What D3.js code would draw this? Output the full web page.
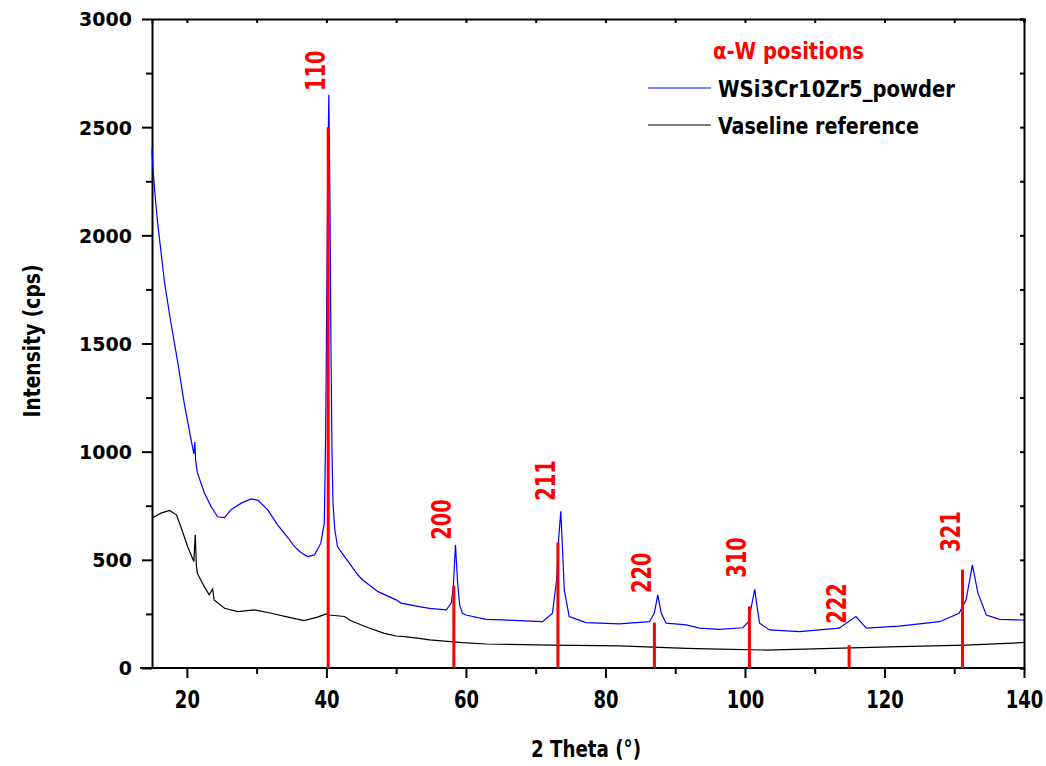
<!DOCTYPE html>
<html>
<head>
<meta charset="utf-8">
<script src="https://cdn.jsdelivr.net/npm/d3@7/dist/d3.min.js"></script>
<style>
  body { margin: 0; background: #fff; }
</style>
</head>
<body>
<div class="vis-holder"></div>
<script>
// measured powder pattern (blue)
var sampleTheta = [15.0, 15.1, 15.4, 15.8, 16.8, 17.7, 18.7, 19.6, 20.6, 21.0, 21.15, 21.25, 21.5, 22.5, 23.5, 24.4, 25.4,
  26.3, 27.8, 29.2, 30.2, 31.6, 33.0, 34.5, 35.4, 36.3, 37.3, 38.3, 39.2, 39.7, 39.9, 40.05, 40.2, 40.35, 40.5, 40.65,
  40.8, 40.95, 41.2, 41.6, 42.6, 44.5, 45.2, 47.4, 50.0, 50.7, 53.3, 54.8, 57.2, 57.9, 58.2, 58.5, 58.8, 59.1, 59.5,
  60.0, 62.9, 65.3, 71.0, 72.4, 73.0, 73.3, 73.6, 73.85, 74.1, 74.8, 77.2, 82.0, 86.3, 87.0, 87.5, 88.0, 88.7, 91.6,
  93.5, 96.3, 99.7, 100.5, 100.9, 101.4, 101.8, 102.1, 103.5, 107.8, 113.5, 115.9, 117.4, 122.1, 127.9, 130.7, 131.7,
  132.6, 133.4, 134.6, 136.5, 139.8, 140.0];
var sampleCps = [2400, 2330, 2200, 2060, 1782, 1597, 1412, 1227, 1056, 990, 1045, 960, 903, 810, 745, 699, 695,
  731, 762, 782, 775, 731, 662, 602, 562, 535, 515, 523, 577, 671, 1100, 1700, 2300, 2650, 2200, 1500,
  1000, 760, 640, 560, 515, 431, 407, 353, 315, 300, 284, 276, 269, 300, 380, 569, 400, 292, 253,
  245, 225, 222, 214, 253, 407, 600, 724, 550, 361, 238, 210, 204, 214, 253, 338, 253, 207, 199,
  184, 179, 186, 214, 280, 364, 270, 207, 176, 168, 184, 238, 184, 194, 214, 253, 315,
  477, 346, 245, 225, 222, 220];

// vaseline reference (black)
var refTheta = [15.0, 16.3, 17.5, 18.5, 19.2, 20.1, 21.0, 21.2, 21.35, 21.5, 22.5, 23.2, 23.7, 23.9, 25.4, 27.3, 29.7,
  32.1, 34.5, 36.8, 38.7, 40.0, 40.4, 42.6, 43.3, 45.0, 46.2, 48.3, 50.0, 51.2, 53.3, 54.8, 59.5, 62.9, 72.4, 82.0,
  91.6, 96.3, 103.0, 112.6, 122.1, 131.7, 139.8, 140.0];
var refCps = [693, 716, 728, 708, 647, 562, 492, 616, 480, 438, 376, 338, 366, 315, 276, 261, 269,
  253, 235, 219, 235, 250, 245, 238, 222, 199, 184, 160, 148, 145, 137, 130, 117, 111, 106, 102,
  91, 87, 83, 91, 99, 106, 117, 120];

// alpha-W reflections
var hkl = ["110", "200", "211", "220", "310", "222", "321"];
var hklTheta = [40.26, 58.27, 73.19, 87.02, 100.64, 114.93, 131.19];
var hklCps = [2500, 380, 580, 210, 285, 105, 455];
var hklLabelCps = [2667, 593, 773, 347, 417, 204, 537];

var xTicks = [20, 40, 60, 80, 100, 120, 140];
var yTicks = [0, 500, 1000, 1500, 2000, 2500, 3000];

var width = 1046;
var height = 766;
var margin = { top: 19, bottom: 98, left: 152, right: 22 };

var svg = d3.select(".vis-holder")
  .append("svg")
  .attr("width", width)
  .attr("height", height);

var xScale = d3.scaleLinear().domain([15, 140]).range([margin.left, width - margin.right]);
var yScale = d3.scaleLinear().domain([0, 3000]).range([height - margin.bottom, margin.top]);

var narrow = "'Liberation Sans Narrow', 'DejaVu Sans Condensed', 'Open Sans', sans-serif";

// box: top and right axes with small inward ticks
svg.append("g")
  .attr("transform", "translate(0," + margin.top + ")")
  .call(d3.axisBottom(xScale).tickValues(d3.range(20, 141, 10)).tickSize(4).tickFormat(""))
  .call(function(g) { g.selectAll("path, line").attr("stroke", "#000").attr("stroke-width", 2); });
svg.append("g")
  .attr("transform", "translate(" + (width - margin.right) + ",0)")
  .call(d3.axisLeft(yScale).tickValues(d3.range(0, 3001, 250)).tickSize(4).tickFormat(""))
  .call(function(g) { g.selectAll("path, line").attr("stroke", "#000").attr("stroke-width", 2); });

// minor ticks
svg.append("g")
  .attr("transform", "translate(0," + (height - margin.bottom) + ")")
  .call(d3.axisBottom(xScale).tickValues(d3.range(30, 140, 20)).tickSize(6).tickFormat(""))
  .call(function(g) { g.select(".domain").remove(); g.selectAll("line").attr("stroke", "#000").attr("stroke-width", 2); });
svg.append("g")
  .attr("transform", "translate(" + margin.left + ",0)")
  .call(d3.axisLeft(yScale).tickValues(d3.range(250, 3000, 500)).tickSize(6).tickFormat(""))
  .call(function(g) { g.select(".domain").remove(); g.selectAll("line").attr("stroke", "#000").attr("stroke-width", 2); });

// main x axis
var xAxis = svg.append("g")
  .attr("class", "x axis")
  .attr("transform", "translate(0," + (height - margin.bottom) + ")")
  .call(d3.axisBottom(xScale).tickValues(xTicks).tickSize(10).tickSizeOuter(0).tickPadding(12));
xAxis.select(".domain").attr("d", "M" + (margin.left - 12) + ",0H" + (width - margin.right));
xAxis.selectAll("path, line").attr("stroke", "#000").attr("stroke-width", 2);
xAxis.selectAll("text")
  .attr("fill", "#000")
  .attr("transform", "scale(0.8,1)")
  .attr("x", function() { return 0; })
  .style("font-family", narrow)
  .style("font-weight", "bold")
  .style("font-size", "25px");

// main y axis
var yAxis = svg.append("g")
  .attr("class", "y axis")
  .attr("transform", "translate(" + margin.left + ",0)")
  .call(d3.axisLeft(yScale).tickValues(yTicks).tickFormat(d3.format("d")).tickSize(10).tickSizeOuter(0).tickPadding(10));
yAxis.selectAll("path, line").attr("stroke", "#000").attr("stroke-width", 2);
yAxis.selectAll("text")
  .attr("fill", "#000")
  .attr("dy", "0.36em")
  .style("font-family", "'DejaVu Sans', Verdana, sans-serif")
  .style("font-weight", "bold")
  .style("font-size", "19px");

// curves
var line = d3.line()
  .x(function(d) { return xScale(d[0]); })
  .y(function(d) { return yScale(d[1]); });

svg.append("path")
  .attr("d", line(d3.zip(refTheta, refCps)))
  .attr("fill", "none")
  .attr("stroke", "#000")
  .attr("stroke-width", 1.2);

svg.append("path")
  .attr("d", line(d3.zip(sampleTheta, sampleCps)))
  .attr("fill", "none")
  .attr("stroke", "#0000ff")
  .attr("stroke-width", 1.2);

// reflection markers
svg.selectAll(".hkl-line")
  .data(hklTheta)
  .enter().append("line")
  .attr("class", "hkl-line")
  .attr("x1", function(d) { return xScale(d); })
  .attr("x2", function(d) { return xScale(d); })
  .attr("y1", yScale(0))
  .attr("y2", function(d, i) { return yScale(hklCps[i]); })
  .attr("stroke", "#ff0000")
  .attr("stroke-width", 3);

svg.selectAll(".hkl-label")
  .data(hkl)
  .enter().append("text")
  .attr("class", "hkl-label")
  .attr("transform", function(d, i) {
    return "translate(" + (xScale(hklTheta[i]) - 3) + "," + yScale(hklLabelCps[i]) + ") rotate(-90) scale(0.8,1)";
  })
  .attr("fill", "#ff0000")
  .style("font-family", narrow)
  .style("font-weight", "bold")
  .style("font-size", "27px")
  .text(function(d) { return d; });

// legend
svg.append("text")
  .attr("x", 713).attr("y", 59)
  .attr("fill", "#ff0000")
  .style("font-family", narrow)
  .style("font-weight", "bold")
  .style("font-size", "23px")
  .attr("textLength", 151)
  .attr("lengthAdjust", "spacingAndGlyphs")
  .text("\u03b1-W positions");

svg.append("line")
  .attr("x1", 648).attr("x2", 711).attr("y1", 88).attr("y2", 88)
  .attr("stroke", "#0000ff").attr("stroke-width", 1.2);
svg.append("text")
  .attr("x", 718).attr("y", 97)
  .style("font-family", narrow)
  .style("font-weight", "bold")
  .style("font-size", "23px")
  .attr("textLength", 237)
  .attr("lengthAdjust", "spacingAndGlyphs")
  .text("WSi3Cr10Zr5_powder");

svg.append("line")
  .attr("x1", 648).attr("x2", 711).attr("y1", 125).attr("y2", 125)
  .attr("stroke", "#000").attr("stroke-width", 1.2);
svg.append("text")
  .attr("x", 718).attr("y", 134)
  .style("font-family", narrow)
  .style("font-weight", "bold")
  .style("font-size", "23px")
  .attr("textLength", 201)
  .attr("lengthAdjust", "spacingAndGlyphs")
  .text("Vaseline reference");

// axis titles
svg.append("text")
  .attr("transform", "translate(" + 40 + "," + 341 + ") rotate(-90)")
  .style("text-anchor", "middle")
  .style("font-family", narrow)
  .style("font-weight", "bold")
  .style("font-size", "23px")
  .attr("textLength", 153)
  .attr("lengthAdjust", "spacingAndGlyphs")
  .text("Intensity (cps)");

svg.append("text")
  .attr("x", 586).attr("y", 757)
  .style("text-anchor", "middle")
  .style("font-family", narrow)
  .style("font-weight", "bold")
  .style("font-size", "23px")
  .attr("textLength", 110)
  .attr("lengthAdjust", "spacingAndGlyphs")
  .text("2 Theta (\u00b0)");
</script>
</body>
</html>
